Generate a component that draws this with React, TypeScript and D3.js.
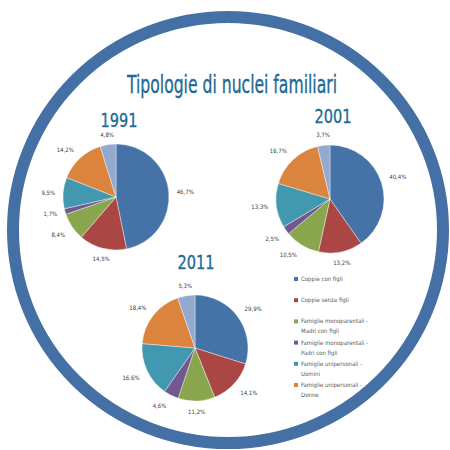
import React from "react";
import * as d3 from "d3";

// categories (legend labels, two lines each where the original wraps)
const categories = [
  ["Coppie con figli"],
  ["Coppie senza figli"],
  ["Famiglie monoparentali -", "Madri con figli"],
  ["Famiglie monoparentali -", "Padri con figli"],
  ["Famiglie unipersonali -", "Uomini"],
  ["Famiglie unipersonali -", "Donne"],
  ["Altro"],
];
const colors = ["#4572a7", "#aa4643", "#89a54e", "#71588f", "#4198af", "#db843d", "#93a9cf"];

const years = ["1991", "2001", "2011"];
const values1991 = [46.7, 14.5, 8.4, 1.7, 9.5, 14.2, 4.8];
const values2001 = [40.4, 13.2, 10.5, 2.5, 13.3, 16.7, 3.7];
const values2011 = [29.9, 14.1, 11.2, 4.6, 16.6, 18.4, 5.3];
const labels1991 = ["46,7%", "14,5%", "8,4%", "1,7%", "9,5%", "14,2%", "4,8%"];
const labels2001 = ["40,4%", "13,2%", "10,5%", "2,5%", "13,3%", "16,7%", "3,7%"];
const labels2011 = ["29,9%", "14,1%", "11,2%", "4,6%", "16,6%", "18,4%", "5,3%"];

const titleColor = "#1d6a93";
const ringColor = "#4570a5";
const condensed = "'DejaVu Sans Condensed', 'Liberation Sans Narrow', 'DejaVu Sans', sans-serif";

const pieGen = d3.pie<number>().sort(null).value((d) => d);

function Pie({ cx, cy, r, values, labels, year, tx, ty }) {
  const arcs = pieGen(values);
  const arc = d3.arc<d3.PieArcDatum<number>>().innerRadius(0).outerRadius(r);
  return (
    <g transform={`translate(${cx},${cy})`}>
      <text
        x={tx}
        y={ty}
        textAnchor="middle"
        fontSize={19}
        fontFamily={condensed}
        fill={titleColor}
        stroke={titleColor}
        strokeWidth={0.3}
        textLength={37}
        lengthAdjust="spacingAndGlyphs"
      >
        {year}
      </text>
      {arcs.map((a, i) => (
        <path key={i} d={arc(a) || ""} fill={colors[i]} stroke="#fff" strokeWidth={0.4} />
      ))}
      {arcs.map((a, i) => {
        const mid = (a.startAngle + a.endAngle) / 2;
        const s = Math.sin(mid);
        const c = Math.cos(mid);
        const lr = r + 6;
        const x = lr * s;
        const y = -lr * c;
        const anchor = s > 0.3 ? "start" : s < -0.3 ? "end" : "middle";
        const dy = c > 0.3 ? -2 : c < -0.3 ? 7 : 2.5;
        return (
          <text
            key={"l" + i}
            x={x + (anchor === "middle" ? 0 : s > 0 ? 2 : -2)}
            y={y + dy}
            textAnchor={anchor}
            fontSize={6}
            fontFamily={condensed}
            fill="#404040"
          >
            {labels[i]}
          </text>
        );
      })}
    </g>
  );
}

export default function App() {
  const legendY = d3.scalePoint<number>().domain(d3.range(6)).range([279, 385]);
  return (
    <svg
      width={450}
      height={450}
      style={{ position: "absolute", left: 0, top: 0, background: "#fff" }}
    >
      <rect width={450} height={450} fill="#fff" />
      <ellipse cx={228} cy={230} rx={215} ry={213} fill="none" stroke={ringColor} strokeWidth={12} />
      <text
        x={232}
        y={93}
        textAnchor="middle"
        fontSize={25}
        fontFamily={condensed}
        fill={titleColor}
        stroke={titleColor}
        strokeWidth={0.35}
        textLength={210}
        lengthAdjust="spacingAndGlyphs"
      >
        Tipologie di nuclei familiari
      </text>
      <Pie cx={116} cy={197} r={53} values={values1991} labels={labels1991} year={years[0]} tx={3} ty={-70} />
      <Pie cx={330} cy={199} r={54} values={values2001} labels={labels2001} year={years[1]} tx={3} ty={-76} />
      <Pie cx={195} cy={348} r={53} values={values2011} labels={labels2011} year={years[2]} tx={1} ty={-79} />
      {categories.slice(0, 6).map((cat, i) => (
        <g key={i} transform={`translate(296,${legendY(i)})`}>
          <rect x={-2} y={-2} width={4} height={4} fill={colors[i]} />
          {cat.map((line, j) => (
            <text
              key={j}
              x={5}
              y={2 + j * 10}
              fontSize={6}
              fontFamily={condensed}
              fill="#595959"
            >
              {line}
            </text>
          ))}
        </g>
      ))}
    </svg>
  );
}
